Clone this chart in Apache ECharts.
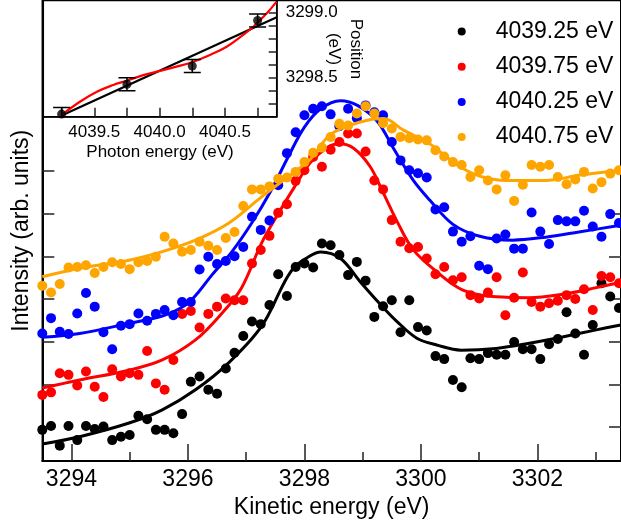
<!DOCTYPE html>
<html>
<head>
<meta charset="utf-8">
<script src="https://cdn.jsdelivr.net/npm/echarts@6/dist/echarts.min.js"></script>
<style>html,body{margin:0;padding:0;background:#fff;}#c{width:621px;height:525px;}</style>
</head>
<body>
<div id="c"></div>
<script>
// ---- Main panel: kinetic energy grid (eV) ----
const energy = [
3293.5,3293.65,3293.8,3293.95,3294.1,3294.25,3294.4,3294.55,3294.7,3294.85,
3295.0,3295.15,3295.3,3295.45,3295.6,3295.75,3295.9,3296.05,3296.2,3296.35,
3296.5,3296.65,3296.8,3296.95,3297.1,3297.25,3297.4,3297.55,3297.7,3297.85,
3298.0,3298.15,3298.3,3298.45,3298.6,3298.75,3298.9,3299.05,3299.2,3299.35,
3299.5,3299.65,3299.8,3299.95,3300.1,3300.25,3300.4,3300.55,3300.7,3300.85,
3301.0,3301.15,3301.3,3301.45,3301.6,3301.75,3301.9,3302.05,3302.2,3302.35,
3302.5,3302.65,3302.8,3302.95,3303.1,3303.25,3303.4];

const seriesNames = ['4039.25 eV','4039.75 eV','4040.25 eV','4040.75 eV'];
const seriesColors = ['#000000','#ff0000','#0000ff','#ffa500'];

// measured intensities (arb. units, offset for clarity)
const int4039_25 = [-0.07,0.02,-0.44,0.02,-0.31,0.02,-0.05,0.01,-0.31,-0.23,
-0.19,0.26,0.18,-0.07,-0.07,-0.15,0.30,1.06,1.18,0.87,
0.78,1.37,1.74,2.13,2.47,2.41,2.86,3.58,3.07,3.75,
3.83,3.74,4.30,4.26,4.03,3.56,3.87,3.43,2.58,2.83,
2.97,2.22,2.97,2.34,2.26,1.66,1.59,1.10,0.93,1.61,
1.59,1.73,1.69,1.69,1.99,1.82,1.82,1.59,1.94,2.06,
2.69,2.19,1.69,2.39,3.37,3.06,2.79];
const int4039_75 = [0.75,0.81,1.26,1.22,0.97,1.30,0.94,0.70,1.35,1.18,
1.26,1.22,1.78,1.02,0.87,1.57,2.65,2.72,2.33,2.65,
2.82,3.01,2.97,2.97,3.83,4.15,4.48,5.02,5.22,5.77,
6.02,6.33,6.10,6.50,6.68,6.88,6.88,6.46,5.78,5.57,
4.85,4.34,4.19,4.22,3.95,3.58,3.75,3.44,3.51,3.09,
3.01,3.15,3.51,2.62,3.03,3.62,2.93,2.82,2.90,2.96,
3.09,3.00,3.23,2.74,3.54,3.51,3.37];
const int4040_25 = [2.19,2.55,2.23,2.18,2.66,3.14,2.82,2.22,1.82,2.37,
2.41,2.66,2.49,2.65,2.74,2.62,2.93,2.93,3.69,3.99,
3.82,3.89,4.00,4.22,4.93,4.62,4.84,5.67,6.42,6.91,
7.31,7.46,7.52,7.33,7.05,7.46,7.24,7.54,7.38,7.31,
6.68,6.25,6.02,5.95,5.85,5.10,5.15,4.58,4.34,4.47,
3.78,3.70,4.42,4.51,4.18,4.18,5.03,4.58,4.29,4.85,
4.82,4.82,5.07,4.70,4.46,4.99,4.78];
const int4040_75 = [3.31,3.15,3.35,3.74,3.75,3.79,3.61,3.75,3.86,3.82,
3.70,3.86,3.89,3.99,4.46,4.30,4.11,4.15,4.34,4.25,
4.15,4.43,4.57,5.18,5.57,5.57,5.64,5.82,5.85,5.98,
6.21,6.43,6.55,6.80,7.11,7.07,7.35,7.52,7.35,7.12,
7.00,6.80,6.77,6.74,6.72,6.49,6.34,6.21,6.14,5.86,
6.02,5.78,5.57,5.90,5.30,5.68,6.14,6.10,6.14,5.86,
5.69,5.80,5.98,5.59,5.74,5.94,6.02];

// fitted curves
const fitBlackX = [3293.5,3294.14,3294.99,3295.56,3296.13,3296.69,3297.26,3297.66,3297.83,3298.06,3298.28,3298.62,3298.96,3299.36,3299.59,3299.93,3300.27,3300.69,3301.29,3301.86,3302.43,3302.99,3303.43];
const fitBlackY = [-0.40,-0.23,0.09,0.40,0.87,1.49,2.35,3.40,3.75,3.98,4.10,3.95,3.40,2.79,2.47,2.08,1.92,1.80,1.84,1.96,2.11,2.27,2.39];
const fitRedX = [3293.5,3294.14,3294.99,3295.56,3296.13,3296.58,3296.92,3297.26,3297.55,3297.83,3298.11,3298.40,3298.60,3298.85,3299.13,3299.36,3299.59,3299.87,3300.27,3300.72,3301.29,3301.86,3302.43,3302.99,3303.43];
const fitRedY = [0.91,1.10,1.33,1.57,2.04,2.66,3.26,4.30,5.00,5.63,6.21,6.56,6.64,6.53,6.10,5.47,4.82,4.15,3.64,3.21,3.05,3.03,3.11,3.26,3.40];
const fitBlueX = [3293.5,3294.14,3294.99,3295.56,3295.96,3296.18,3296.41,3296.75,3297.09,3297.43,3297.72,3298.0,3298.28,3298.62,3298.91,3299.25,3299.53,3299.87,3300.15,3300.55,3301.01,3301.57,3302.14,3302.71,3303.43];
const fitBlueY = [2.10,2.19,2.43,2.60,2.86,3.16,3.56,4.10,4.77,5.55,6.33,7.03,7.46,7.65,7.54,7.17,6.53,5.78,5.32,4.75,4.47,4.38,4.45,4.57,4.73];
const fitOrangeX = [3293.5,3294.14,3294.99,3295.56,3296.13,3296.69,3297.26,3297.83,3298.11,3298.45,3298.96,3299.36,3299.70,3300.15,3300.44,3300.72,3301.06,3301.46,3302.14,3302.71,3303.43];
const fitOrangeY = [3.52,3.72,3.91,4.11,4.38,4.77,5.39,5.98,6.29,6.86,7.15,7.23,6.96,6.64,6.33,6.06,5.86,5.78,5.78,5.90,6.02];

const xMajorTicks = [3294,3296,3298,3300,3302];
const xMinorTicks = [3295,3297,3299,3301,3303];
const yTicks = [0,1,2,3,4,5,6];

// ---- Inset: peak position vs photon energy ----
const photonEnergy = [4039.25,4039.75,4040.25,4040.75];
const peakPosition = [3298.22,3298.45,3298.59,3298.94];
const peakError = [0.05,0.05,0.05,0.05];
const linFitX = [4039.25,4040.896];
const linFitY = [3298.21,3298.965];
const polyFitX = [4039.25,4039.39,4039.52,4039.645,4039.748,4039.875,4040.01,4040.13,4040.257,4040.385,4040.513,4040.64,4040.717,4040.82,4040.895];
const polyFitY = [3298.213,3298.315,3298.392,3298.444,3298.477,3298.52,3298.554,3298.585,3298.623,3298.675,3298.738,3298.83,3298.892,3298.995,3299.085];
const insetXTicks = [4039.25,4039.5,4039.75,4040.0,4040.25,4040.5,4040.75];
const insetXLabels = [4039.5,4040.0,4040.5];
const insetYTicks = [3298.3,3298.4,3298.5,3298.6,3298.7,3298.8,3298.9,3299.0];
const insetYLabels = [3298.5,3299.0];

const FONT = 'Liberation Sans, Arial, Helvetica, sans-serif';
const zip = (a, b) => a.map((v, i) => [v, b[i]]);
const tickStyle = {color:'#222', width:1.5};

const mainVals = [int4039_25, int4039_75, int4040_25, int4040_75];
const fitsX = [fitBlackX, fitRedX, fitBlueX, fitOrangeX];
const fitsY = [fitBlackY, fitRedY, fitBlueY, fitOrangeY];

const series = [];
for (let k = 0; k < 4; k++) {
  series.push({
    name: seriesNames[k], type: 'scatter', xAxisIndex: 0, yAxisIndex: 0,
    data: zip(energy, mainVals[k]), symbol: 'circle', symbolSize: 10,
    itemStyle: {color: seriesColors[k], opacity: 1}, z: 2 + k
  });
  series.push({
    name: 'fit ' + seriesNames[k], type: 'line', xAxisIndex: 0, yAxisIndex: 0,
    data: zip(fitsX[k], fitsY[k]), smooth: 0.35, showSymbol: false, symbol: 'none',
    lineStyle: {color: seriesColors[k], width: 3}, z: 2 + k
  });
}
// inset series
series.push({
  name: 'linfit', type: 'line', xAxisIndex: 2, yAxisIndex: 2,
  data: zip(linFitX, linFitY), showSymbol: false, symbol: 'none',
  lineStyle: {color: '#000', width: 2.2}, z: 10
});
series.push({
  name: 'polyfit', type: 'line', xAxisIndex: 2, yAxisIndex: 2,
  data: zip(polyFitX, polyFitY), smooth: 0.4, showSymbol: false, symbol: 'none',
  lineStyle: {color: '#ff0000', width: 2.2}, z: 11
});
series.push({
  name: 'errbars', type: 'custom', xAxisIndex: 2, yAxisIndex: 2, z: 12, clip: true,
  data: photonEnergy.map((x, i) => [x, peakPosition[i], peakError[i]]),
  renderItem: function (params, api) {
    const x = api.value(0), y = api.value(1), e = api.value(2);
    const t = api.coord([x, y + e]), b = api.coord([x, y - e]);
    const c = 8.5;
    const st = {stroke: '#000', lineWidth: 1.5};
    return {type: 'group', children: [
      {type: 'line', shape: {x1: t[0], y1: t[1], x2: b[0], y2: b[1]}, style: st},
      {type: 'line', shape: {x1: t[0] - c, y1: t[1], x2: t[0] + c, y2: t[1]}, style: st},
      {type: 'line', shape: {x1: b[0] - c, y1: b[1], x2: b[0] + c, y2: b[1]}, style: st}
    ]};
  }
});
series.push({
  name: 'points', type: 'scatter', xAxisIndex: 2, yAxisIndex: 2, z: 13,
  data: zip(photonEnergy, peakPosition), symbolSize: 9, itemStyle: {color: '#000'}
});

const option = {
  animation: false,
  backgroundColor: '#fff',
  textStyle: {fontFamily: FONT},
  legend: {
    data: seriesNames, orient: 'vertical', left: 457.7, top: 20, padding: 0,
    itemWidth: 8, itemHeight: 8, itemGap: 12.2, icon: 'circle',
    textStyle: {fontSize: 23, lineHeight: 23, fontFamily: FONT, color: '#000', padding: [0, 0, 0, 25]}
  },
  grid: [
    {left: 42.3, right: -5, top: 0.5, bottom: 64, show: true, borderColor: '#000', borderWidth: 1.5, backgroundColor: 'transparent'},
    {left: 43.3, top: 0.5, width: 233.4, height: 116.2, show: true, borderColor: '#000', borderWidth: 1.5, backgroundColor: '#fff'}
  ],
  xAxis: [
    {gridIndex: 0, type: 'value', position: 'bottom', min: 3293.5, max: 3303.435,
     axisLine: {onZero: false, lineStyle: {color: '#000', width: 2}},
     axisTick: {inside: true, length: 17, customValues: xMajorTicks, lineStyle: tickStyle},
     axisLabel: {customValues: xMajorTicks, margin: 7, fontSize: 23, color: '#000', fontFamily: FONT,
                 formatter: v => String(v)},
     splitLine: {show: false},
     name: 'Kinetic energy (eV)', nameLocation: 'middle', nameGap: 32,
     nameTextStyle: {fontSize: 23, color: '#000', fontFamily: FONT}},
    {gridIndex: 0, type: 'value', position: 'bottom', min: 3293.5, max: 3303.435,
     axisLine: {show: false, onZero: false},
     axisTick: {inside: true, length: 9, customValues: xMinorTicks, lineStyle: tickStyle},
     axisLabel: {show: false}, splitLine: {show: false}},
    {gridIndex: 1, type: 'value', position: 'bottom', min: 4039.11, max: 4040.896, z: 3,
     axisLine: {onZero: false, lineStyle: {color: '#000', width: 1.5}},
     axisTick: {inside: true, length: 9, customValues: insetXTicks, lineStyle: tickStyle},
     axisLabel: {customValues: insetXLabels, margin: 7, fontSize: 17, color: '#000', fontFamily: FONT,
                 formatter: v => Number(v).toFixed(1)},
     splitLine: {show: false},
     name: 'Photon energy (eV)', nameLocation: 'middle', nameGap: 27,
     nameTextStyle: {fontSize: 17, color: '#000', fontFamily: FONT}}
  ],
  yAxis: [
    {gridIndex: 0, type: 'value', position: 'left', min: -0.8, max: 10,
     axisLine: {onZero: false, lineStyle: {color: '#000', width: 2}},
     axisTick: {inside: true, length: 12, customValues: yTicks, lineStyle: tickStyle},
     axisLabel: {show: false}, splitLine: {show: false},
     name: 'Intensity (arb. units)', nameLocation: 'middle', nameGap: 9,
     nameTextStyle: {fontSize: 23, color: '#000', fontFamily: FONT}},
    {gridIndex: 0, type: 'value', position: 'right', min: -0.8, max: 10,
     axisLine: {onZero: false, lineStyle: {color: '#000', width: 2}},
     axisTick: {inside: true, length: 12, customValues: yTicks, lineStyle: tickStyle},
     axisLabel: {show: false}, splitLine: {show: false}},
    {gridIndex: 1, type: 'value', position: 'right', min: 3298.2, max: 3299.094, z: 3,
     axisLine: {onZero: false, lineStyle: {color: '#000', width: 1.5}},
     axisTick: {inside: true, length: 8, customValues: insetYTicks, lineStyle: tickStyle},
     axisLabel: {customValues: insetYLabels, margin: 9, fontSize: 17, color: '#000', fontFamily: FONT,
                 formatter: v => Number(v).toFixed(1)},
     splitLine: {show: false}}
  ],
  graphic: [
    {type: 'text', x: 345, y: 49, rotation: -Math.PI / 2, z: 20,
     style: {text: 'Position\n(eV)', fontSize: 17, lineHeight: 22, fontFamily: FONT, fill: '#000',
             align: 'center', verticalAlign: 'middle'}}
  ],
  series: series
};

const chart = echarts.init(document.getElementById('c'), null, {renderer: 'canvas'});
chart.setOption(option);
</script>
</body>
</html>
